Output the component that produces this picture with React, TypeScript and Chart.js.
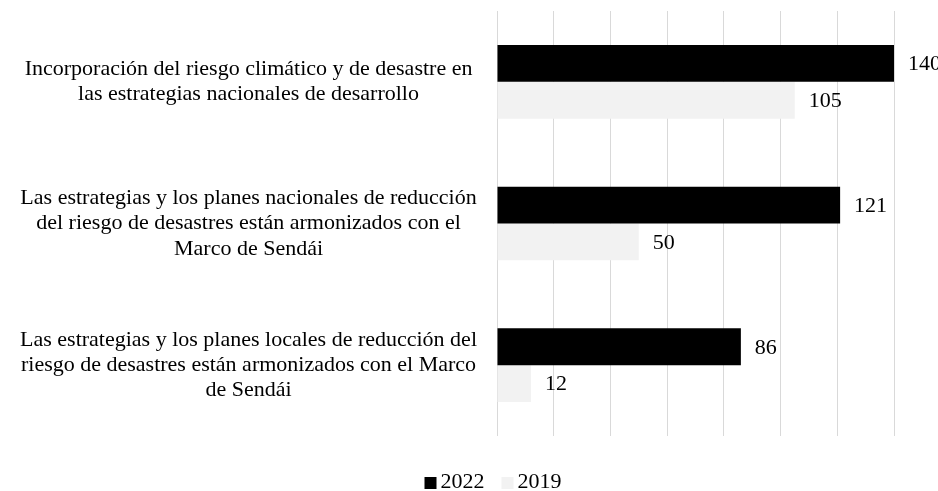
import React, { useEffect, useRef } from "react";
import { Chart, registerables } from "chart.js";

Chart.register(...registerables);

const categories: string[][] = [
  ["Incorporación del riesgo climático y de desastre en", "las estrategias nacionales de desarrollo"],
  [
    "Las estrategias y los planes nacionales de reducción",
    "del riesgo de desastres están armonizados con el",
    "Marco de Sendái",
  ],
  [
    "Las estrategias y los planes locales de reducción del",
    "riesgo de desastres están armonizados con el Marco",
    "de Sendái",
  ],
];
const seriesNames = ["2022", "2019"];
const values2022 = [140, 121, 86];
const values2019 = [105, 50, 12];
const axisMin = 0;
const axisMax = 140;
const axisStep = 20;

const FONT = "'Liberation Serif', 'Times New Roman', serif";
const FONT_SIZE = 22;

const valueLabels = {
  id: "valueLabels",
  afterDatasetsDraw(chart: any) {
    const ctx = chart.ctx;
    ctx.save();
    ctx.font = `${FONT_SIZE}px ${FONT}`;
    ctx.fillStyle = "#000";
    ctx.textAlign = "left";
    ctx.textBaseline = "middle";
    chart.data.datasets.forEach((ds: any, i: number) => {
      const meta = chart.getDatasetMeta(i);
      meta.data.forEach((bar: any, j: number) => {
        ctx.fillText(String(ds.data[j]), bar.x + 14, bar.y + 1);
      });
    });
    ctx.restore();
  },
};

const bottomLegend = {
  id: "bottomLegend",
  afterDraw(chart: any) {
    const ctx = chart.ctx;
    ctx.save();
    ctx.font = `${FONT_SIZE}px ${FONT}`;
    const box = 12;
    const gap = 4;
    const itemGap = 17;
    const items = chart.data.datasets.map((ds: any) => ({
      label: ds.label,
      color: ds.backgroundColor,
      tw: ctx.measureText(ds.label).width,
    }));
    const total =
      items.reduce((s: number, it: any) => s + box + gap + it.tw, 0) + itemGap * (items.length - 1);
    let x = chart.width / 2 + 24 - total / 2;
    const cy = chart.height - 8;
    ctx.textAlign = "left";
    ctx.textBaseline = "middle";
    items.forEach((it: any) => {
      ctx.fillStyle = it.color;
      ctx.fillRect(x, cy - box / 2, box, box);
      ctx.fillStyle = "#000";
      ctx.fillText(it.label, x + box + gap, cy - 1);
      x += box + gap + it.tw + itemGap;
    });
    ctx.restore();
  },
};

export default function App() {
  const canvasRef = useRef<HTMLCanvasElement | null>(null);

  useEffect(() => {
    if (!canvasRef.current) return;
    const chart = new Chart(canvasRef.current, {
      type: "bar",
      data: {
        labels: categories,
        datasets: [
          {
            label: seriesNames[0],
            data: values2022,
            backgroundColor: "#000000",
            borderWidth: 0,
            categoryPercentage: 0.52,
            barPercentage: 1,
          },
          {
            label: seriesNames[1],
            data: values2019,
            backgroundColor: "#f2f2f2",
            borderWidth: 0,
            categoryPercentage: 0.52,
            barPercentage: 1,
          },
        ],
      },
      options: {
        indexAxis: "y",
        animation: false,
        responsive: true,
        maintainAspectRatio: false,
        layout: { padding: { top: 11, bottom: 55, right: 44, left: 0 } },
        plugins: {
          legend: { display: false },
          tooltip: { enabled: false },
        },
        scales: {
          x: {
            min: axisMin,
            max: axisMax,
            ticks: { display: false, stepSize: axisStep },
            grid: { color: "#d9d9d9", lineWidth: 1, drawTicks: false },
            border: { display: false },
            afterFit(scale: any) {
              scale.height = 0;
            },
          },
          y: {
            grid: { display: false, drawTicks: false },
            border: { display: false },
            ticks: {
              color: "#000",
              font: { family: FONT, size: FONT_SIZE, lineHeight: 1.15 },
              crossAlign: "center",
              padding: 20,
            },
            afterFit(scale: any) {
              scale.width = 497;
              scale.paddingTop = 0;
              scale.paddingBottom = 0;
            },
          },
        },
      },
      plugins: [valueLabels, bottomLegend],
    });
    return () => chart.destroy();
  }, []);

  return (
    <div style={{ position: "absolute", left: 0, top: 0, width: 938, height: 491, background: "#fff" }}>
      <canvas ref={canvasRef} />
    </div>
  );
}
